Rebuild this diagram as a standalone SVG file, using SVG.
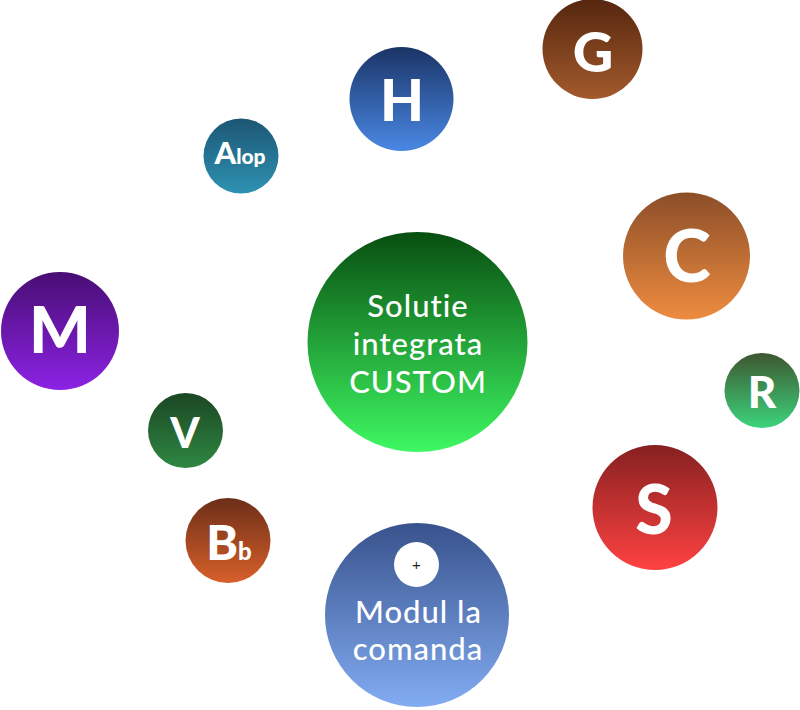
<svg xmlns="http://www.w3.org/2000/svg" width="800" height="710" viewBox="0 0 800 710">
<style>
.l{font-family:Lato,"Noto Sans",sans-serif;font-weight:900;fill:#fff;text-anchor:middle}
.t{font-family:Lato,"Noto Sans",sans-serif;font-weight:500;fill:#fff;text-anchor:middle;font-size:31px;letter-spacing:1px;font-variant-ligatures:none}
</style>
<defs>
<linearGradient id="gG" x1="0" y1="0" x2="0" y2="1"><stop offset="0" stop-color="#55260e"/><stop offset="1" stop-color="#a35a2c"/></linearGradient>
<linearGradient id="gH" x1="0" y1="0" x2="0" y2="1"><stop offset="0" stop-color="#1a3466"/><stop offset="1" stop-color="#4a88e4"/></linearGradient>
<linearGradient id="gA" x1="0" y1="0" x2="0" y2="1"><stop offset="0" stop-color="#1c5674"/><stop offset="1" stop-color="#2e92b2"/></linearGradient>
<linearGradient id="gC" x1="0" y1="0" x2="0" y2="1"><stop offset="0" stop-color="#8c4e28"/><stop offset="1" stop-color="#ee8c40"/></linearGradient>
<linearGradient id="gM" x1="0" y1="0" x2="0" y2="1"><stop offset="0" stop-color="#480e74"/><stop offset="1" stop-color="#8c22e4"/></linearGradient>
<linearGradient id="gX" x1="0" y1="0" x2="0" y2="1"><stop offset="0" stop-color="#084e10"/><stop offset="1" stop-color="#3ef862"/></linearGradient>
<linearGradient id="gR" x1="0" y1="0" x2="0" y2="1"><stop offset="0" stop-color="#3e5630"/><stop offset="1" stop-color="#3cd47c"/></linearGradient>
<linearGradient id="gV" x1="0" y1="0" x2="0" y2="1"><stop offset="0" stop-color="#1c4624"/><stop offset="1" stop-color="#2e8842"/></linearGradient>
<linearGradient id="gS" x1="0" y1="0" x2="0" y2="1"><stop offset="0" stop-color="#862020"/><stop offset="1" stop-color="#ff4242"/></linearGradient>
<linearGradient id="gB" x1="0" y1="0" x2="0" y2="1"><stop offset="0" stop-color="#6c2e18"/><stop offset="1" stop-color="#d8602a"/></linearGradient>
<linearGradient id="gK" x1="0" y1="0" x2="0" y2="1"><stop offset="0" stop-color="#38528c"/><stop offset="1" stop-color="#82acf2"/></linearGradient>
</defs>
<g id="connectors"></g>
<g id="node-G"><circle cx="592.5" cy="49" r="50" fill="url(#gG)"/><text class="l" x="593" y="72" font-size="56">G</text></g>
<g id="node-H"><circle cx="401.5" cy="99" r="52" fill="url(#gH)"/><text class="l" x="402" y="121" font-size="57">H</text></g>
<g id="node-Alop"><circle cx="241" cy="156" r="37.5" fill="url(#gA)"/><text class="l" x="240" y="164" font-size="31">A<tspan font-size="21">lop</tspan></text></g>
<g id="node-C"><circle cx="686.5" cy="256" r="63.5" fill="url(#gC)"/><text class="l" x="687" y="282" font-size="72">C</text></g>
<g id="node-M"><circle cx="60" cy="331" r="59" fill="url(#gM)"/><text class="l" x="60" y="353" font-size="65">M</text></g>
<g id="node-center"><circle cx="417.5" cy="342" r="110" fill="url(#gX)"/>
<text class="t" x="418" y="317">Solutie</text><text class="t" x="418" y="355">integrata</text><text class="t" x="418" y="393">CUSTOM</text></g>
<g id="node-R"><circle cx="762" cy="390.5" r="37.5" fill="url(#gR)"/><text class="l" x="762" y="408" font-size="44">R</text></g>
<g id="node-V"><circle cx="185.5" cy="430.5" r="37.5" fill="url(#gV)"/><text class="l" x="185" y="448" font-size="42">V</text></g>
<g id="node-S"><circle cx="655" cy="507.5" r="62.5" fill="url(#gS)"/><text class="l" x="654" y="534" font-size="68">S</text></g>
<g id="node-Bb"><circle cx="228" cy="540.5" r="42.5" fill="url(#gB)"/><text class="l" x="229" y="560" font-size="48">B<tspan font-size="24">b</tspan></text></g>
<g id="node-modul"><circle cx="417" cy="615" r="92" fill="url(#gK)"/>
<circle cx="416.5" cy="564.5" r="22.5" fill="#fff"/>
<text x="416.5" y="569.5" font-family="'Liberation Sans',sans-serif" font-size="15" text-anchor="middle" fill="#222">+</text>
<text class="t" x="418.5" y="623">Modul la</text><text class="t" x="418" y="660">comanda</text></g>
</svg>
